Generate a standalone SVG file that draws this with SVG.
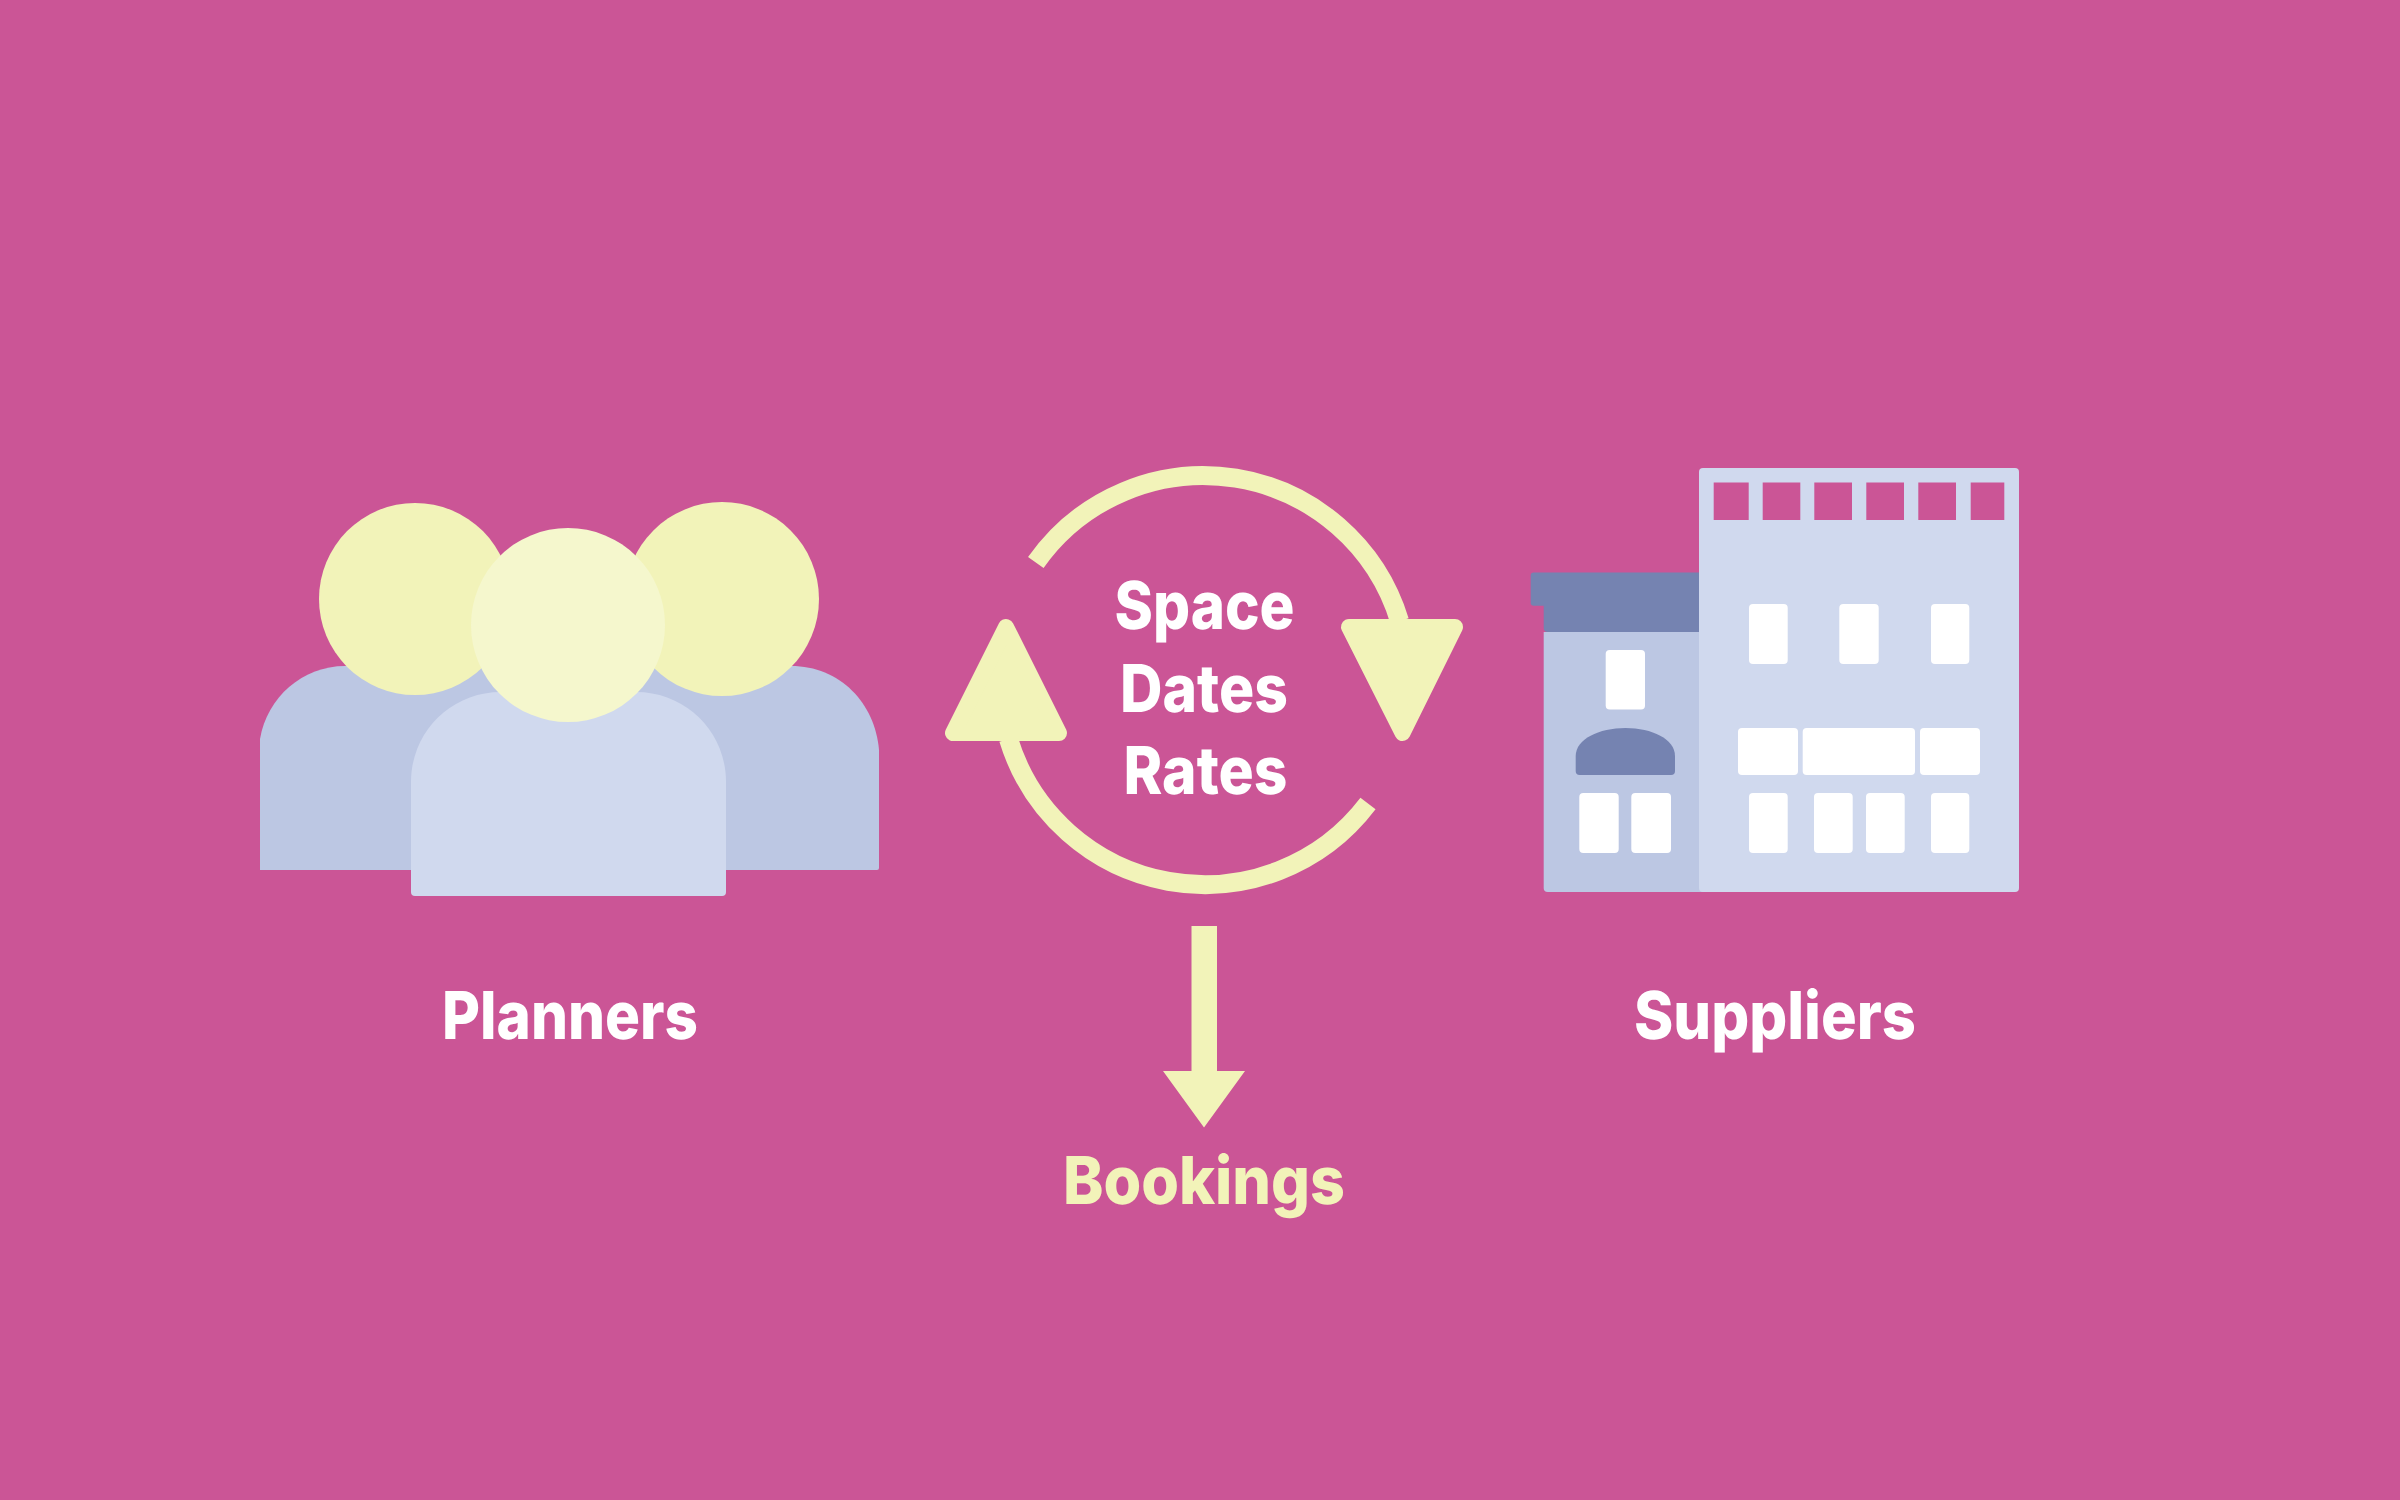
<svg xmlns="http://www.w3.org/2000/svg" width="2400" height="1500" viewBox="0 0 2400 1500">
<style>
.bg{fill:#CB5596}
.head{fill:#F2F3B9}
.headf{fill:#F5F7CD}
.back{fill:#BCC7E3}
.front{fill:#D0D9EE}
.dark{fill:#7583B1}
.win{fill:#FFFFFF}
.hole{fill:#CB5596}
.flow{fill:#F2F3B9}
.tip{fill:#F2F3B9;stroke:#F2F3B9;stroke-width:16;stroke-linejoin:round}
.ring{fill:none;stroke:#F2F3B9;stroke-width:19}
text{font-family:"Inter","Liberation Sans",sans-serif;font-weight:800;font-size:66px;text-anchor:middle;fill:#FFFFFF;text-rendering:geometricPrecision}
text.hl{fill:#F2F3B9}
</style>
<rect class="bg" width="2400" height="1500"/>
<g id="planners">
<path class="back" d="M260 870V739C267 697 303 666 345 666H791C840 666 875 703 879 750V868Q879 870 877 870Z"/>
<circle class="head" cx="415" cy="599" r="96"/>
<circle class="head" cx="722" cy="599" r="97"/>
<path class="front" d="M411 782C411 732 451 692 501 692H636C686 692 726 732 726 782V892Q726 896 722 896H415Q411 896 411 892Z"/>
<circle class="headf" cx="568" cy="625" r="97"/>
<text x="570" y="1039" textLength="256" lengthAdjust="spacingAndGlyphs">Planners</text>
</g>
<g id="cycle-label">
<text x="1204.500" y="629" textLength="180" lengthAdjust="spacingAndGlyphs">Space</text>
<text x="1204" y="712" textLength="168" lengthAdjust="spacingAndGlyphs">Dates</text>
<text x="1205.500" y="794" textLength="164" lengthAdjust="spacingAndGlyphs">Rates</text>
</g>
<g id="connectors">
<path class="ring" d="M1035.800 562.500A205 205 0 0 1 1399.500 621"/>
<polygon class="tip" points="1349,627 1455,627 1402.500,733"/>
<path class="ring" d="M1368 803.500A205 205 0 0 1 1008.500 739"/>
<polygon class="tip" points="953,733 1059,733 1006,627"/>
<path class="flow" d="M1191.500 926H1217V1071H1245L1204 1127.500L1163 1071H1191.500Z"/>
</g>
<g id="bookings">
<text class="hl" x="1204" y="1204" textLength="282" lengthAdjust="spacingAndGlyphs">Bookings</text>
</g>
<g id="suppliers">
<path class="back" d="M1543.700 632H1705V892H1547.700Q1543.700 892 1543.700 888Z"/>
<path class="dark" d="M1533.700 572.500H1700V632H1547.700Q1543.700 632 1543.700 628V605.800H1533.700Q1530.700 605.800 1530.700 602.800V575.500Q1530.700 572.500 1533.700 572.500Z"/>
<rect class="front" x="1699" y="468" width="320" height="424" rx="4"/>
<rect class="hole" x="1713.700" y="482.500" width="35" height="37.500"/>
<rect class="hole" x="1762.700" y="482.500" width="37.600" height="37.500"/>
<rect class="hole" x="1814.300" y="482.500" width="37.700" height="37.500"/>
<rect class="hole" x="1866.300" y="482.500" width="37.700" height="37.500"/>
<rect class="hole" x="1918.300" y="482.500" width="37.700" height="37.500"/>
<rect class="hole" x="1970.700" y="482.500" width="33.600" height="37.500"/>
<g class="win">
<rect x="1749" y="604" width="38.700" height="60" rx="4"/>
<rect x="1839.300" y="604" width="39.400" height="60" rx="4"/>
<rect x="1931" y="604" width="38.300" height="60" rx="4"/>
<rect x="1738" y="728" width="60" height="47" rx="4"/>
<rect x="1802.700" y="728" width="112.300" height="47" rx="4"/>
<rect x="1920" y="728" width="60" height="47" rx="4"/>
<rect x="1749" y="793" width="38.700" height="60" rx="4"/>
<rect x="1814" y="793" width="38.700" height="60" rx="4"/>
<rect x="1866" y="793" width="38.700" height="60" rx="4"/>
<rect x="1931" y="793" width="38.300" height="60" rx="4"/>
<rect x="1605.700" y="650" width="39.300" height="59.500" rx="4"/>
<rect x="1579.300" y="793" width="39.400" height="60" rx="4"/>
<rect x="1631.300" y="793" width="39.700" height="60" rx="4"/>
</g>
<path class="dark" d="M1575.700 756C1575.700 739 1599 728 1625.500 728C1652 728 1675 739 1675 756V771Q1675 775 1671 775H1579.700Q1575.700 775 1575.700 771Z"/>
<text x="1775" y="1039" textLength="282" lengthAdjust="spacingAndGlyphs">Suppliers</text>
</g>
</svg>
